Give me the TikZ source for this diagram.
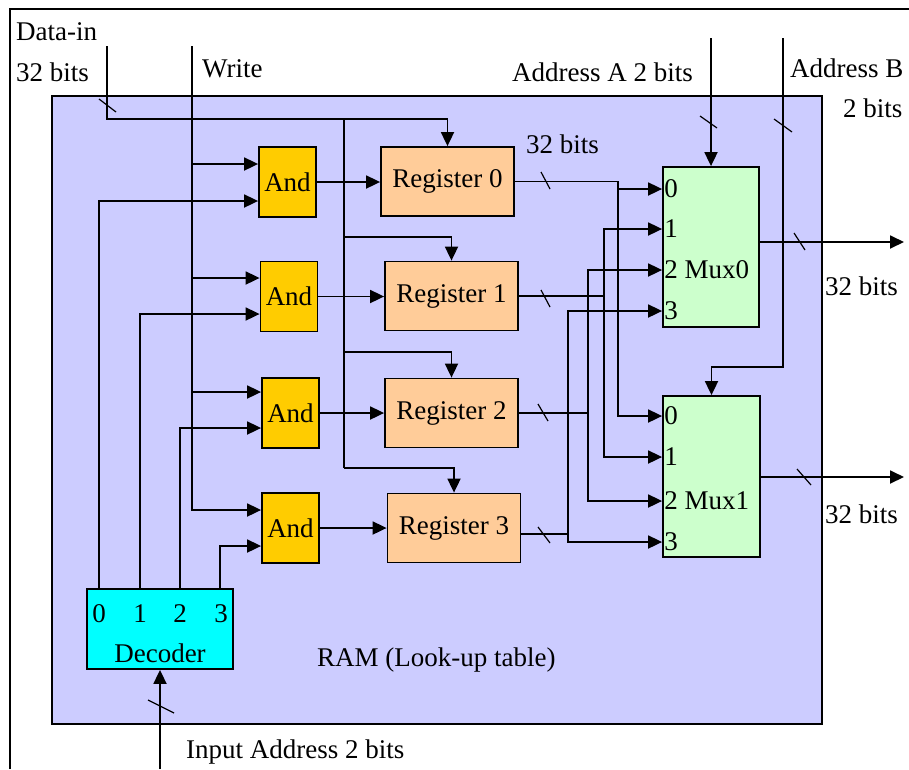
\documentclass[tikz,border=0pt]{standalone}
\usepackage{fontspec}
\setmainfont{Liberation Serif}
\usetikzlibrary{arrows.meta}
\definecolor{ramblue}{HTML}{CCCCFF}
\definecolor{andgold}{HTML}{FFCC00}
\definecolor{regpeach}{HTML}{FFCC99}
\definecolor{muxgreen}{HTML}{CCFFCC}
\definecolor{deccyan}{HTML}{00FFFF}
\tikzset{
  wire/.style={line width=1.8pt},
  arr/.style={wire, -{Triangle[length=14pt,width=13pt]}},
  slash/.style={line width=1.2pt},
  blk/.style={draw, line width=1.8pt, inner sep=0pt},
  andbox/.style={blk, fill=andgold, minimum width=57pt, minimum height=70pt},
  regbox/.style={blk, fill=regpeach, minimum width=133pt, minimum height=69pt},
  muxbox/.style={blk, fill=muxgreen, minimum width=96pt, minimum height=160pt},
  decbox/.style={blk, fill=deccyan, minimum width=146pt, minimum height=80pt},
  lbl/.style={inner sep=0pt, anchor=base west},
  muxin/.style={inner sep=0pt, anchor=west, xshift=2pt},
}

\begin{document}
\begin{tikzpicture}[x=1pt, y=-1pt, font=\fontsize{27}{32}\selectfont]
    \useasboundingbox (0,0) rectangle (909,769);
    % outer frame and RAM area
    \draw[line width=1.5pt] (10,769) -- (10,9) -- (909,9);
    \draw[line width=1.8pt, fill=ramblue] (52,96) rectangle (822,724);
    \node[lbl] (ramlbl) at (317,666) {RAM (Look-up table)};
    % outside labels
    \node[lbl] (dinlbl) at (16,40) {Data-in};
    \node[lbl] (dinbits) at (16,81) {32 bits};
    \node[lbl] (wrlbl) at (202,77) {Write};
    \node[lbl] (adralbl) at (512,81) {Address A 2 bits};
    \node[lbl] (adrblbl) at (790,77) {Address B};
    \node[lbl] (adrbbits) at (843,117) {2 bits};
    \node[lbl] (r0bits) at (526,153) {32 bits};
    \node[lbl] (o0bits) at (825,295) {32 bits};
    \node[lbl] (o1bits) at (825,523) {32 bits};
    \node[lbl] (iadrlbl) at (186,758) {Input Address 2 bits};
    % and gates
    \node[andbox] (and0) at (287.5,182) {And};
    \node[andbox] (and1) at (289,296.5) {And};
    \node[andbox] (and2) at (290.5,413) {And};
    \node[andbox] (and3) at (290.5,528) {And};
    % registers
    \node[regbox] (reg0) at (447.5,181.5) {Register 0};
    \node[regbox] (reg1) at (451.5,296) {Register 1};
    \node[regbox] (reg2) at (451.5,413) {Register 2};
    \node[regbox] (reg3) at (454,528) {Register 3};
    % muxes
    \node[muxbox] (mux0) at (711,247) {};
    \node[muxbox, minimum width=97pt, minimum height=161pt] (mux1) at (711.5,476.5) {};
    \node[muxin] (m0i0) at (mux0.west |- 0,189) {0};
    \node[muxin] (m0i1) at (mux0.west |- 0,229) {1};
    \node[muxin] (m0i2) at (mux0.west |- 0,270) {2 Mux0};
    \node[muxin] (m0i3) at (mux0.west |- 0,311) {3};
    \node[muxin] (m1i0) at (mux1.west |- 0,416) {0};
    \node[muxin] (m1i1) at (mux1.west |- 0,457) {1};
    \node[muxin] (m1i2) at (mux1.west |- 0,501) {2 Mux1};
    \node[muxin] (m1i3) at (mux1.west |- 0,542) {3};
    % decoder
    \node[decbox] (dec) at (160,629) {};
    \node[inner sep=0pt, anchor=base] (n0) at (99,622) {0};
    \node[inner sep=0pt, anchor=base] (n1) at (140,622) {1};
    \node[inner sep=0pt, anchor=base] (n2) at (180,622) {2};
    \node[inner sep=0pt, anchor=base] (n3) at (221,622) {3};
    \node[inner sep=0pt, anchor=base] (declbl) at (160,662) {Decoder};
    % inputs
    \coordinate (din) at (107,46);
    \coordinate (wr) at (192,46);
    \coordinate (dbus) at (344,119);
    \coordinate (adra) at (711,38);
    \coordinate (adrb) at (783,38);
    \coordinate (iadr) at (160,769);
    \coordinate (out0) at (904,242);
    \coordinate (out1) at (904,477);
    % data-in bus
    \draw[arr] (din) -- (din |- dbus) -| (reg0.north);
    \draw[wire] (dbus) -- (dbus |- 0,468);
    \draw[arr] (dbus |- 0,237) -| (reg1.north);
    \draw[arr] (dbus |- 0,352) -| (reg2.north);
    \draw[arr] (dbus |- 0,468) -| (reg3.north);
    % write line
    \draw[arr] (wr) |- (and3.west |- 0,510);
    \draw[arr] (wr |- 0,164) -- (and0.west |- 0,164);
    \draw[arr] (wr |- 0,278) -- (and1.west |- 0,278);
    \draw[arr] (wr |- 0,392) -- (and2.west |- 0,392);
    % decoder outputs
    \draw[arr] (n0 |- dec.north) |- (and0.west |- 0,201);
    \draw[arr] (n1 |- dec.north) |- (and1.west |- 0,314);
    \draw[arr] (n2 |- dec.north) |- (and2.west |- 0,428);
    \draw[arr] ([xshift=-1pt]n3 |- dec.north) |- (and3.west |- 0,546);
    \draw[arr] (iadr) -- (dec.south);
    % and -> register
    \draw[arr] (and0.east) -- (and0.east -| reg0.west);
    \draw[arr] (and1.east) -- (and1.east -| reg1.west);
    \draw[arr] (and2.east) -- (and2.east -| reg2.west);
    \draw[arr] (and3.east) -- (and3.east -| reg3.west);
    % register -> mux
    \draw[arr] (reg0.east) -| (618,416) -- (mux1.west |- 0,416);
    \draw[arr] (618,189) -- (mux0.west |- 0,189);
    \draw[arr] (reg1.east) -| (604,457) -- (mux1.west |- 0,457);
    \draw[arr] (604,296) |- (mux0.west |- 0,229);
    \draw[arr] (reg2.east) -| (588,501) -- (mux1.west |- 0,501);
    \draw[arr] (588,413) |- (mux0.west |- 0,270);
    \draw[arr] (reg3.east |- 0,534) -| (568,542) -- (mux1.west |- 0,542);
    \draw[arr] (568,534) |- (mux0.west |- 0,311);
    % addresses and outputs
    \draw[arr] (adra) -- (mux0.north);
    \draw[arr] (adrb) |- (mux1.north |- 0,367) -- (mux1.north);
    \draw[arr] (mux0.east |- out0) -- (out0);
    \draw[arr] (mux1.east |- out1) -- (out1);
    % bus width marks
    \draw[slash] (99,99) -- (116,112);
    \draw[slash] (700,116) -- (717,128);
    \draw[slash] (774,119) -- (792,132);
    \draw[slash] (541,172) -- (550,189);
    \draw[slash] (541,290) -- (550,307);
    \draw[slash] (538,404) -- (548,421);
    \draw[slash] (538,527) -- (550,543);
    \draw[slash] (794,233) -- (805,250);
    \draw[slash] (797,469) -- (811,485);
    \draw[slash] (148,700) -- (174,713);
\end{tikzpicture}
\end{document}
